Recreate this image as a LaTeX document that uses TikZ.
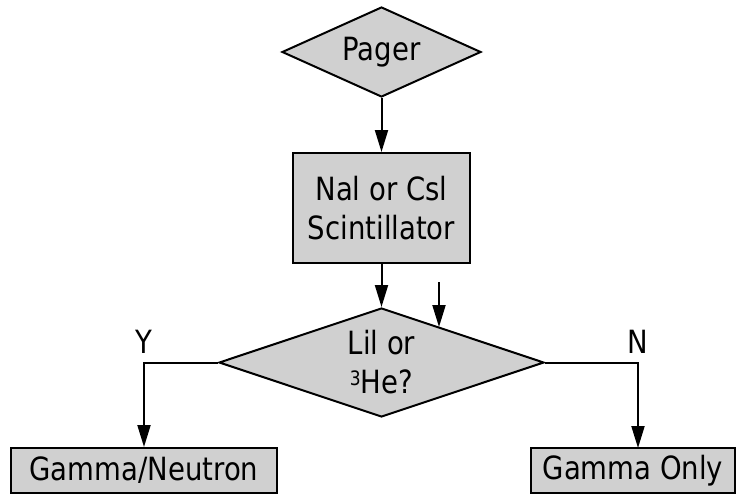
\documentclass[tikz,border=0pt]{standalone}
\usepackage{fontspec}
\setmainfont{DejaVu Sans}[FakeStretch=0.86]
\usetikzlibrary{shapes.geometric,arrows.meta}
\definecolor{boxgray}{RGB}{208,208,208}
\newcommand{\supthree}{\raisebox{8pt}{\scalebox{0.62}{3}}}
\tikzset{
  every node/.style={font=\fontsize{32}{39}\selectfont},
  dia/.style={shape=diamond, draw=black, fill=boxgray, line width=2pt, inner sep=0pt},
  rbox/.style={shape=rectangle, draw=black, fill=boxgray, line width=2pt, inner sep=0pt, align=center},
  conn/.style={line width=2pt, -{Triangle[length=22pt,width=13pt]}},
  lbl/.style={inner sep=0pt}
}
\begin{document}
\begin{tikzpicture}[x=1pt,y=-1pt]
\useasboundingbox (0,0) rectangle (737,495);
\node[dia, aspect=2.2, minimum width=199pt, minimum height=90pt] (pager) at (381.5,52) {Pager};
\node[rbox, minimum width=177pt, minimum height=110pt] (scint) at (381.5,208) {Nal or Csl\\Scintillator};
\node[dia, aspect=3, minimum width=325pt, minimum height=109pt, align=center] (q) at (381.5,362.5) {Lil or\\\supthree He?};
\node[rbox, minimum width=266pt, minimum height=45pt] (gn) at (144,470.5) {Gamma/Neutron};
\node[rbox, minimum width=204pt, minimum height=45pt] (go) at (633,470.5) {Gamma Only};
\coordinate (extraA) at (439,282);
\coordinate (extraB) at (439,327);
\coordinate (goin) at (638,448);
\draw[conn] (pager.south) -- (scint.north);
\draw[conn] (scint.south) -- (q.north);
\draw[conn] (extraA) -- (extraB);
\draw[conn] (q.west) -| (gn.north);
\draw[conn] (q.east) -| (goin);
\node[lbl] (ylbl) at (144,342) {Y};
\node[lbl] (nlbl) at (638,342) {N};
\end{tikzpicture}
\end{document}
